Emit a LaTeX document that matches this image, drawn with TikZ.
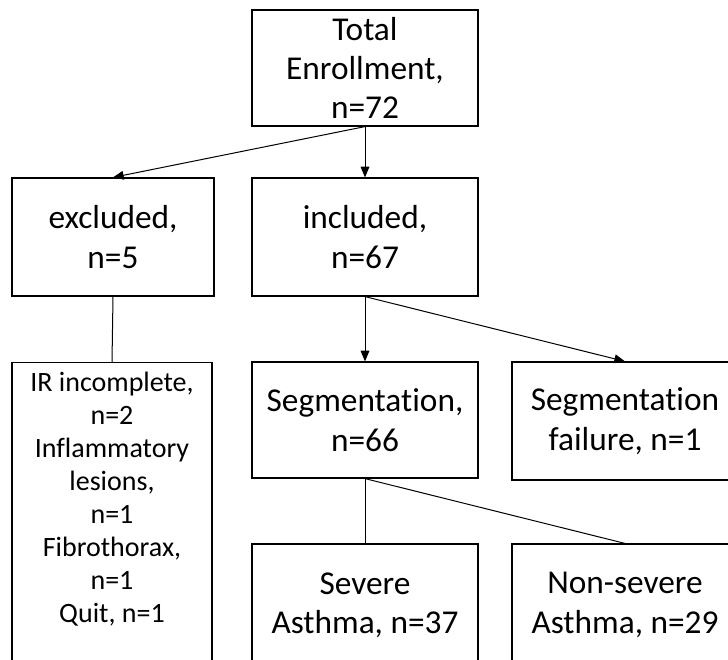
\documentclass[tikz,border=0pt]{standalone}
\usepackage{fontspec}
\setmainfont[Ligatures=CommonOff]{Carlito}
\usetikzlibrary{positioning,arrows.meta}

\begin{document}
\begin{tikzpicture}[x=0.75pt, y=-0.75pt,
    box/.style={draw, line width=0.9pt, align=center, inner sep=0pt,
      minimum width=169.5pt, minimum height=88.5pt,
      font=\fontsize{25}{29.5}\selectfont},
    arr/.style={-{Triangle[length=8pt,width=6.5pt]}, line width=0.75pt},
    link/.style={line width=0.75pt}]
  \useasboundingbox (0,0) rectangle (728,660);
  \clip (0,0) rectangle (728,660);

  % enrollment and first split
  \node[box, minimum height=87pt] (total) at (365,68) {Total\\Enrollment,\\n=72};
  \node[box, minimum width=151.5pt] (excl) at (113,237) {excluded,\\n=5};
  \node[box] (incl) at (365,237) {included,\\n=67};

  % second level
  \node[box, minimum height=87pt] (seg) at (365,420) {Segmentation,\\n=66};
  \node[box] (fail) at (625,421) {Segmentation\\failure, n=1};
  \node[box, anchor=north, minimum width=150pt, inner ysep=7pt, text depth=250pt,
        font=\fontsize{21}{24.75}\selectfont] (reasons) at (112,362)
        {IR incomplete,\\n=2\\Inflammatory\\lesions,\\n=1\\Fibrothorax,\\n=1\\Quit, n=1};

  % asthma groups
  \node[box, minimum height=91.5pt] (severe) at (365,605) {Severe\\Asthma, n=37};
  \node[box, minimum height=91.5pt] (nonsevere) at (625,605) {Non-severe\\Asthma, n=29};

  \draw[arr] (total.south) -- (excl.north);
  \draw[arr] (total.south) -- (incl.north);
  \draw[link] (excl.south) -- (reasons.north);
  \draw[arr] (incl.south) -- (seg.north);
  \draw[arr] (incl.south) -- (fail.north);
  \draw[link] (seg.south) -- (severe.north);
  \draw[link] (seg.south) -- (nonsevere.north);
\end{tikzpicture}
\end{document}
